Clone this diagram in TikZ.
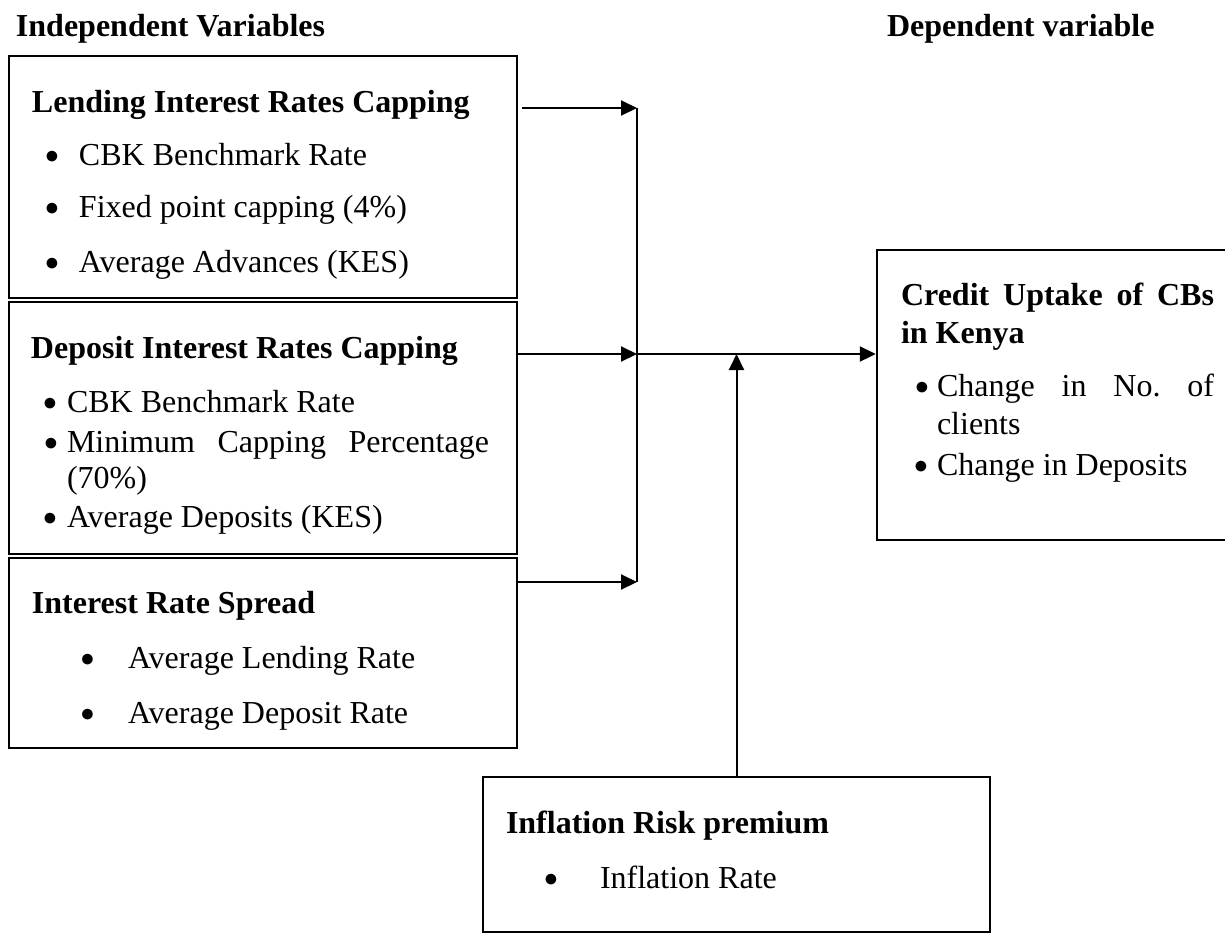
\documentclass[tikz,border=0pt]{standalone}
\usepackage{fontspec}
\setmainfont{Liberation Serif}
\usepackage{graphicx}
\usepackage{tikz}
\usetikzlibrary{arrows.meta}
\tolerance=9999
\hyphenpenalty=10000
\frenchspacing
\newcommand{\bul}{\makebox[0pt][l]{\raisebox{0.8pt}{\scalebox{0.8}{$\bullet$}}}}
\newcommand{\itm}[2]{\makebox[#1][l]{\bul}#2}

\begin{document}
\begin{tikzpicture}[>={Triangle[width=7.5pt,length=8pt]}, line width=1pt,
  box/.style={draw, line width=1.2pt, inner sep=0pt},
  txt/.style={anchor=base west, inner sep=0pt, font=\fontsize{16}{18}\selectfont},
  hd/.style={txt, font=\fontsize{16}{19}\selectfont\bfseries},
  just/.style={txt, align=justify, text width=#1}]
\useasboundingbox (0pt,0pt) rectangle (612.5pt,-466.5pt);
\draw (7.5pt, -18pt)node[hd](indep){Independent Variables};
\draw (443pt, -18pt)node[hd](dep){Dependent variable};
% boxes
\draw (131.5pt, -88.5pt)node[box, minimum width=254pt, minimum height=121pt](lend){};
\draw (131.5pt, -214pt)node[box, minimum width=254pt, minimum height=126pt](depo){};
\draw (131.5pt, -326.5pt)node[box, minimum width=254pt, minimum height=95pt](spread){};
\draw (527.25pt, -197.5pt)node[box, minimum width=177.5pt, minimum height=145pt](credit){};
\draw (368.25pt, -427.25pt)node[box, minimum width=253.5pt, minimum height=77.5pt](infl){};
% box texts
\draw (15.5pt, -56pt)node[hd](lendT){Lending Interest Rates Capping};
\draw (22pt, -82.5pt)node[txt](lend1){\itm{17pt}{CBK Benchmark Rate}};
\draw (22pt, -108.5pt)node[txt](lend2){\itm{17pt}{Fixed point capping (4\%)}};
\draw (22pt, -136pt)node[txt](lend3){\itm{17pt}{Average Advances (KES)}};
\draw (15pt, -179pt)node[hd](depoT){Deposit Interest Rates Capping};
\draw (21pt, -206pt)node[txt](depo1){\itm{12pt}{CBK Benchmark Rate}};
\draw (21pt, -226pt)node[txt](depo2b){\bul};
\draw (33pt, -226pt)node[just=211pt](depo2){Minimum Capping Percentage (70\%)};
\draw (21pt, -263.5pt)node[txt](depo3){\itm{12pt}{Average Deposits (KES)}};
\draw (15.5pt, -306.5pt)node[hd](spreadT){Interest Rate Spread};
\draw (39.75pt, -334pt)node[txt](spread1){\itm{23.75pt}{Average Lending Rate}};
\draw (39.75pt, -361.5pt)node[txt](spread2){\itm{23.75pt}{Average Deposit Rate}};
\draw (450pt, -152.5pt)node[just=156.5pt, font=\fontsize{16}{19}\selectfont\bfseries](creditT){Credit Uptake of CBs in Kenya};
\draw (456.5pt, -198pt)node[txt](credit1b){\bul};
\draw (468pt, -198pt)node[just=138.5pt, font=\fontsize{16}{19}\selectfont](credit1){Change in No. of clients};
\draw (456.5pt, -237.5pt)node[txt](credit2){\itm{11.5pt}{Change in Deposits}};
\draw (252.5pt, -416.5pt)node[hd](inflT){Inflation Risk premium};
\draw (271.5pt, -444pt)node[txt](infl1){\itm{28pt}{Inflation Rate}};
% connectors
\coordinate (j1) at (318.5pt, -54pt);
\coordinate (j2) at (318.5pt, -177pt);
\coordinate (j3) at (318.5pt, -291pt);
\draw (j1) -- (j3);
\path[->] (lend.east |- j1) edge[shorten <=2pt] (j1);
\path[->] (depo.east |- j2) edge (j2);
\path[->] (spread.east |- j3) edge (j3);
\path[->] (j2) edge (j2 -| credit.west);
\path[->] (infl.north) edge (infl.north |- j2);
\end{tikzpicture}
\end{document}
